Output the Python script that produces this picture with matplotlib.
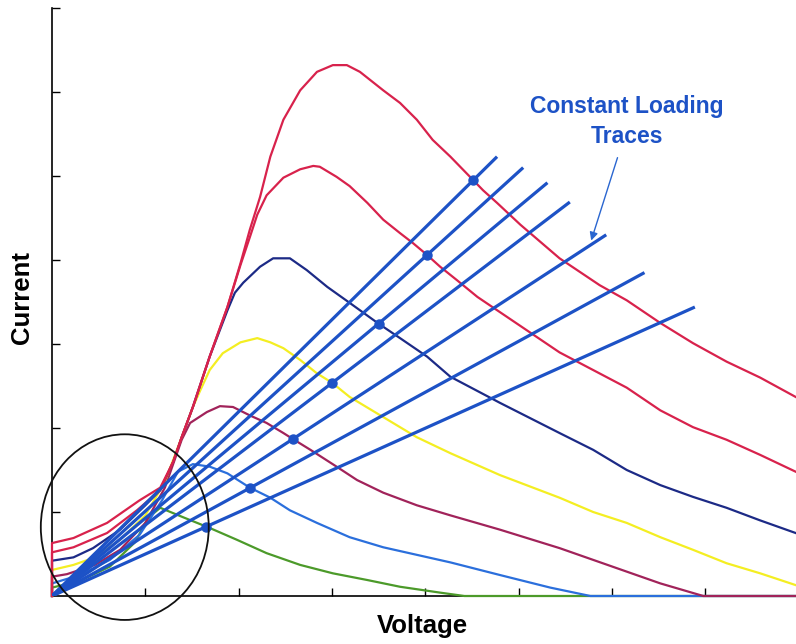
import matplotlib.pyplot as plt
import numpy as np
from matplotlib.patches import Ellipse

plt.rcParams['font.family'] = ['Liberation Sans', 'DejaVu Sans']

# I-V curves, highest first (voltage, current) in tick units
red_hi_v = [0, 0, 0.23, 0.59, 0.94, 1.16, 1.30, 1.39, 1.51, 1.69, 1.88, 2.02, 2.12, 2.23, 2.34, 2.48, 2.66, 2.84, 3.01,
            3.16, 3.30, 3.55, 3.73, 3.91, 4.08, 4.27, 4.41, 4.62, 4.77, 5.02, 5.44, 5.87, 6.16, 6.52, 6.87, 7.23, 7.59, 7.97]
red_hi_i = [0, 0.63, 0.69, 0.87, 1.14, 1.29, 1.60, 1.89, 2.25, 2.85, 3.44, 3.96, 4.36, 4.75, 5.23, 5.67, 6.02, 6.24, 6.32,
            6.32, 6.24, 6.02, 5.87, 5.67, 5.43, 5.23, 5.07, 4.83, 4.68, 4.42, 4.02, 3.70, 3.52, 3.25, 3.01, 2.79, 2.60, 2.37]

red_lo_v = [0, 0, 0.23, 0.59, 0.91, 1.16, 1.30, 1.39, 1.51, 1.69, 1.88, 2.02, 2.12, 2.20, 2.30, 2.48, 2.66, 2.80, 2.87,
            3.05, 3.19, 3.38, 3.55, 3.73, 3.87, 4.02, 4.16, 4.34, 4.56, 4.80, 5.12, 5.44, 5.80, 6.16, 6.52, 6.87, 7.23,
            7.59, 7.97]
red_lo_i = [0, 0.52, 0.58, 0.75, 1.02, 1.26, 1.60, 1.89, 2.25, 2.85, 3.44, 3.94, 4.27, 4.54, 4.77, 4.98, 5.08, 5.12, 5.11,
            4.99, 4.88, 4.68, 4.48, 4.32, 4.20, 4.06, 3.92, 3.76, 3.56, 3.38, 3.14, 2.90, 2.69, 2.48, 2.21, 2.01, 1.86,
            1.68, 1.48]

navy_v = [0, 0, 0.23, 0.44, 0.73, 1.00, 1.16, 1.30, 1.39, 1.51, 1.69, 1.88, 1.96, 2.05, 2.23, 2.37, 2.55, 2.73, 2.95,
          3.19, 3.49, 3.73, 4.02, 4.27, 4.80, 5.44, 5.80, 6.16, 6.52, 6.87, 7.23, 7.59, 7.97]
navy_i = [0, 0.42, 0.46, 0.57, 0.79, 1.08, 1.26, 1.60, 1.89, 2.25, 2.85, 3.40, 3.61, 3.73, 3.92, 4.02, 4.02, 3.88, 3.68,
          3.49, 3.25, 3.07, 2.85, 2.61, 2.30, 1.94, 1.74, 1.50, 1.32, 1.18, 1.05, 0.90, 0.75]

yellow_v = [0, 0, 0.23, 0.46, 0.73, 1.00, 1.21, 1.39, 1.51, 1.59, 1.69, 1.83, 2.02, 2.20, 2.34, 2.48, 2.66, 2.84, 3.00,
            3.19, 3.55, 3.91, 4.27, 4.80, 5.44, 5.80, 6.16, 6.52, 6.87, 7.23, 7.59, 7.97]
yellow_i = [0, 0.31, 0.37, 0.46, 0.67, 0.96, 1.36, 1.89, 2.25, 2.45, 2.69, 2.89, 3.02, 3.07, 3.02, 2.95, 2.81, 2.65, 2.54,
            2.37, 2.13, 1.89, 1.70, 1.44, 1.17, 1.00, 0.87, 0.70, 0.55, 0.39, 0.27, 0.13]

maroon_v = [0, 0, 0.16, 0.46, 0.73, 1.00, 1.21, 1.39, 1.48, 1.66, 1.80, 1.94, 2.12, 2.30, 2.48, 2.58, 2.77, 3.05, 3.27,
            3.55, 3.91, 4.27, 4.80, 5.44, 5.80, 6.16, 6.52, 6.98, 7.97]
maroon_i = [0, 0.23, 0.26, 0.37, 0.55, 0.87, 1.29, 1.86, 2.06, 2.19, 2.26, 2.25, 2.15, 2.06, 1.94, 1.87, 1.74, 1.54, 1.38,
            1.23, 1.08, 0.96, 0.79, 0.57, 0.43, 0.29, 0.15, 0, 0]

blue_v = [0, 0, 0.30, 0.62, 0.94, 1.18, 1.35, 1.51, 1.69, 1.88, 2.12, 2.34, 2.55, 2.84, 3.19, 3.55, 3.91, 4.27, 4.80,
          5.34, 5.77, 7.97]
blue_i = [0, 0.15, 0.25, 0.43, 0.73, 1.14, 1.48, 1.57, 1.54, 1.46, 1.29, 1.17, 1.02, 0.87, 0.70, 0.58, 0.49, 0.40, 0.25,
          0.10, 0, 0]

green_v = [0, 0, 0.30, 0.62, 0.89, 1.03, 1.16, 1.40, 1.69, 1.98, 2.30, 2.66, 3.01, 3.38, 3.73, 4.16, 4.42, 7.97]
green_i = [0, 0.10, 0.18, 0.35, 0.64, 0.93, 1.05, 0.94, 0.81, 0.67, 0.51, 0.37, 0.27, 0.19, 0.11, 0.04, 0, 0]

curve_colors = ['#d8224c', '#d8224c', '#1c2a86', '#f4ee22', '#a1235a', '#2b6fdc', '#4c9a2a']

# constant loading traces run from the origin to these end points
load_end_v = [4.77, 5.05, 5.31, 5.55, 5.94, 6.35, 6.89]
load_end_i = [5.23, 5.10, 4.92, 4.69, 4.30, 3.85, 3.44]
load_color = '#1d52c6'

fig = plt.figure(figsize=(7.96, 6.44), dpi=100)
ax = fig.add_axes([52 / 796, 48 / 644, 744 / 796, 588 / 644])
ax.set_xlim(0, 7.974)
ax.set_ylim(0, 7)

curves = [(red_hi_v, red_hi_i), (red_lo_v, red_lo_i), (navy_v, navy_i), (yellow_v, yellow_i),
          (maroon_v, maroon_i), (blue_v, blue_i), (green_v, green_i)]

# lowest curve first so the upper ones sit on top along the shared rise
for (v, i), c in reversed(list(zip(curves, curve_colors))):
    ax.plot(v, i, color=c, lw=1.6, clip_on=False, zorder=3)

for k in range(len(load_end_v)):
    ve, ie = load_end_v[k], load_end_i[k]
    ax.plot([0, ve], [0, ie], color=load_color, lw=2.3, solid_capstyle='butt', zorder=4)

    # operating point: where the trace crosses the falling side of its curve
    v = np.array(curves[k][0])
    i = np.array(curves[k][1])
    d = i - ie / ve * v
    j = np.where((d[1:-1] > 0) & (d[2:] <= 0))[0][-1] + 1
    t = d[j] / (d[j] - d[j + 1])
    ax.plot(v[j] + t * (v[j + 1] - v[j]), i[j] + t * (i[j + 1] - i[j]), 'o',
            color=load_color, ms=6.5, zorder=5)

ax.add_patch(Ellipse((0.78, 0.82), 1.80, 2.21, fill=False, ec='#111111', lw=1.3, clip_on=False, zorder=6))

ax.text(6.16, 5.65, 'Constant Loading\nTraces', color='#1d52c6', fontsize=16.5, fontweight='bold',
        ha='center', va='center', linespacing=1.4)
ax.annotate('', xy=(5.77, 4.20), xytext=(6.07, 5.25),
            arrowprops=dict(arrowstyle='-|>', color='#2a66d0', lw=1.0, mutation_scale=12))

for side in ['top', 'right']:
    ax.spines[side].set_visible(False)
for side in ['left', 'bottom']:
    ax.spines[side].set_linewidth(1.2)
ax.set_xticks(range(1, 8))
ax.set_yticks(range(1, 8))
ax.tick_params(direction='in', length=6, width=1, labelbottom=False, labelleft=False)

fig.text(422 / 796, 1 - 626 / 644, 'Voltage', fontsize=18.5, fontweight='bold', ha='center', va='center')
fig.text(22 / 796, 1 - 298 / 644, 'Current', fontsize=18.5, fontweight='bold', ha='center', va='center',
         rotation=90)

fig.savefig('out.png', dpi=100)
